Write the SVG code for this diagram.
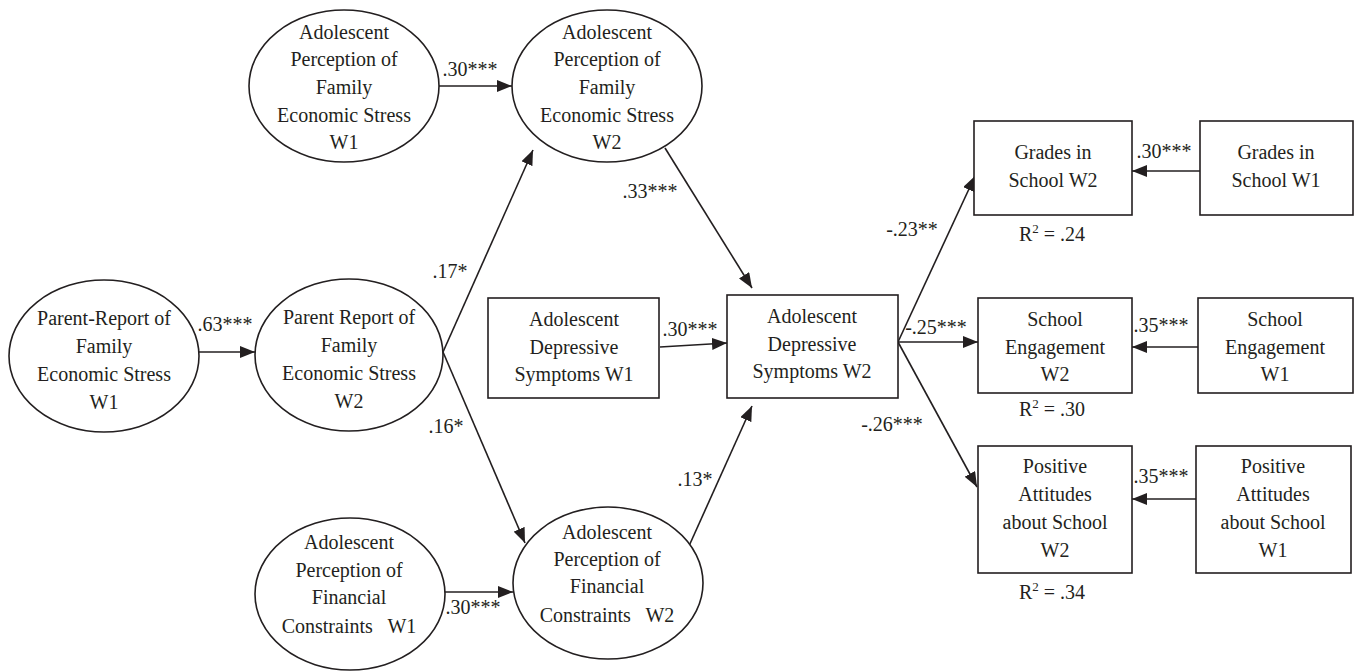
<svg xmlns="http://www.w3.org/2000/svg" width="1358" height="671" viewBox="0 0 1358 671">
<style>
.n{fill:#fff;stroke:#231f20;stroke-width:1.6}
.t{font-family:"Liberation Serif","Times New Roman",serif;font-size:20px;fill:#231f20;text-anchor:middle}
.c{stroke:#231f20;stroke-width:1.6;fill:none;marker-end:url(#ah)}
</style>
<defs>
<marker id="ah" markerUnits="userSpaceOnUse" markerWidth="16" markerHeight="12" refX="15" refY="6" orient="auto">
<path d="M0,0 L15,6 L0,12 Z" fill="#231f20"/>
</marker>
</defs>
<rect width="1358" height="671" fill="#fff"/>
<g id="connectors">
<line class="c" x1="439" y1="86" x2="512" y2="86"/>
<line class="c" x1="199" y1="352" x2="255" y2="352"/>
<line class="c" x1="443" y1="352" x2="533" y2="150"/>
<line class="c" x1="443" y1="352" x2="525" y2="543"/>
<line class="c" x1="665" y1="148" x2="752" y2="288"/>
<line class="c" x1="660" y1="347" x2="727" y2="343"/>
<line class="c" x1="689" y1="546" x2="752" y2="406"/>
<line class="c" x1="444" y1="592" x2="513" y2="592"/>
<line class="c" x1="898" y1="342" x2="975" y2="176"/>
<line class="c" x1="898" y1="342" x2="978" y2="342"/>
<line class="c" x1="898" y1="342" x2="977" y2="487"/>
<line class="c" x1="1200" y1="171" x2="1132" y2="171"/>
<line class="c" x1="1198" y1="347" x2="1132" y2="347"/>
<line class="c" x1="1196" y1="499" x2="1132" y2="499"/>
<text class="t" x="470" y="76">.30***</text>
<text class="t" x="225" y="331">.63***</text>
<text class="t" x="450" y="278">.17*</text>
<text class="t" x="446" y="433">.16*</text>
<text class="t" x="650" y="198">.33***</text>
<text class="t" x="690" y="336">.30***</text>
<text class="t" x="695" y="486">.13*</text>
<text class="t" x="473" y="614">.30***</text>
<text class="t" x="912" y="236">-.23**</text>
<text class="t" x="936" y="334">-.25***</text>
<text class="t" x="892" y="431">-.26***</text>
<text class="t" x="1164" y="158">.30***</text>
<text class="t" x="1161" y="332">.35***</text>
<text class="t" x="1161" y="483">.35***</text>
</g>
<g id="A1">
<ellipse class="n" cx="344" cy="86" rx="95" ry="76"/>
<text class="t" x="344" y="39">Adolescent</text>
<text class="t" x="344" y="66">Perception of</text>
<text class="t" x="344" y="94">Family</text>
<text class="t" x="344" y="122">Economic Stress</text>
<text class="t" x="344" y="149">W1</text>
</g>
<g id="A2">
<ellipse class="n" cx="607" cy="86" rx="95" ry="76"/>
<text class="t" x="607" y="39">Adolescent</text>
<text class="t" x="607" y="66">Perception of</text>
<text class="t" x="607" y="94">Family</text>
<text class="t" x="607" y="122">Economic Stress</text>
<text class="t" x="607" y="149">W2</text>
</g>
<g id="P1">
<ellipse class="n" cx="104" cy="356" rx="95" ry="76"/>
<text class="t" x="104" y="325">Parent-Report of</text>
<text class="t" x="104" y="353">Family</text>
<text class="t" x="104" y="381">Economic Stress</text>
<text class="t" x="104" y="409">W1</text>
</g>
<g id="P2">
<ellipse class="n" cx="349" cy="355" rx="94" ry="76"/>
<text class="t" x="349" y="324">Parent Report of</text>
<text class="t" x="349" y="352">Family</text>
<text class="t" x="349" y="380">Economic Stress</text>
<text class="t" x="349" y="408">W2</text>
</g>
<g id="D1">
<rect class="n" x="488" y="298" width="171" height="100"/>
<text class="t" x="574" y="326">Adolescent</text>
<text class="t" x="574" y="354">Depressive</text>
<text class="t" x="574" y="381">Symptoms W1</text>
</g>
<g id="D2">
<rect class="n" x="727" y="295" width="171" height="103"/>
<text class="t" x="812" y="323">Adolescent</text>
<text class="t" x="812" y="351">Depressive</text>
<text class="t" x="812" y="378">Symptoms W2</text>
</g>
<g id="F1">
<ellipse class="n" cx="350" cy="594" rx="95" ry="76"/>
<text class="t" x="349" y="549">Adolescent</text>
<text class="t" x="349" y="577">Perception of</text>
<text class="t" x="349" y="604">Financial</text>
<text class="t" x="349" y="633">Constraints&#160;&#160; W1</text>
</g>
<g id="F2">
<ellipse class="n" cx="608" cy="583" rx="95" ry="76"/>
<text class="t" x="607" y="539">Adolescent</text>
<text class="t" x="607" y="566">Perception of</text>
<text class="t" x="607" y="593">Financial</text>
<text class="t" x="607" y="622">Constraints&#160;&#160; W2</text>
</g>
<g id="G2">
<rect class="n" x="974" y="121" width="158" height="94"/>
<text class="t" x="1053" y="159">Grades in</text>
<text class="t" x="1053" y="187">School W2</text>
<text class="t" x="1052" y="241">R<tspan font-size="13" dy="-8">2</tspan><tspan dy="8"> = .24</tspan></text>
</g>
<g id="G1">
<rect class="n" x="1200" y="121" width="153" height="94"/>
<text class="t" x="1276" y="159">Grades in</text>
<text class="t" x="1276" y="187">School W1</text>
</g>
<g id="S2">
<rect class="n" x="978" y="298" width="154" height="95"/>
<text class="t" x="1055" y="326">School</text>
<text class="t" x="1055" y="354">Engagement</text>
<text class="t" x="1055" y="381">W2</text>
<text class="t" x="1052" y="416">R<tspan font-size="13" dy="-8">2</tspan><tspan dy="8"> = .30</tspan></text>
</g>
<g id="S1">
<rect class="n" x="1198" y="298" width="155" height="95"/>
<text class="t" x="1275" y="326">School</text>
<text class="t" x="1275" y="354">Engagement</text>
<text class="t" x="1275" y="381">W1</text>
</g>
<g id="PA2">
<rect class="n" x="978" y="446" width="154" height="127"/>
<text class="t" x="1055" y="473">Positive</text>
<text class="t" x="1055" y="501">Attitudes</text>
<text class="t" x="1055" y="529">about School</text>
<text class="t" x="1055" y="557">W2</text>
<text class="t" x="1052" y="599">R<tspan font-size="13" dy="-8">2</tspan><tspan dy="8"> = .34</tspan></text>
</g>
<g id="PA1">
<rect class="n" x="1196" y="446" width="155" height="127"/>
<text class="t" x="1273" y="473">Positive</text>
<text class="t" x="1273" y="501">Attitudes</text>
<text class="t" x="1273" y="529">about School</text>
<text class="t" x="1273" y="557">W1</text>
</g>
</svg>
